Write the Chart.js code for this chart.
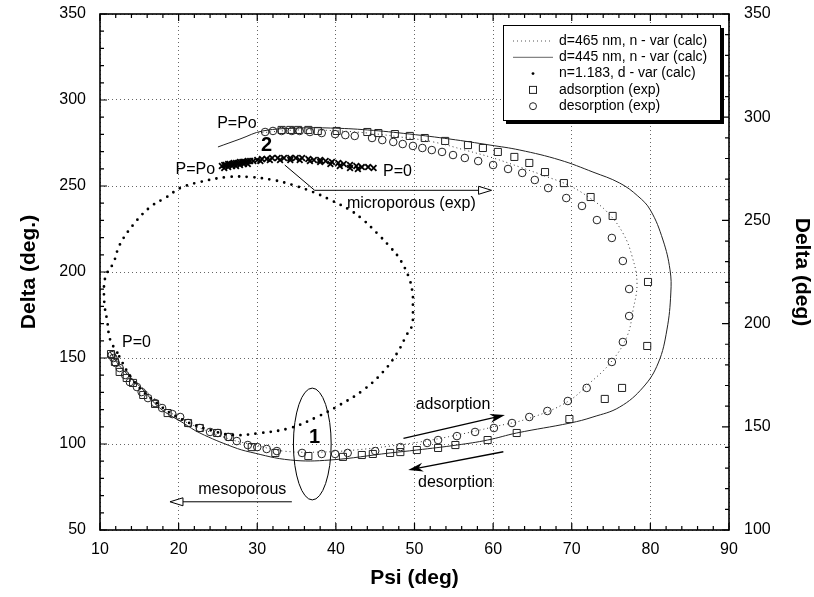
<!DOCTYPE html>
<html><head><meta charset="utf-8">
<script src="https://cdn.jsdelivr.net/npm/chart.js@4.4.1/dist/chart.umd.min.js"></script>
<style>html,body{margin:0;padding:0;background:#fff}canvas{display:block}</style>
</head><body>
<canvas id="c" width="814" height="597"></canvas>
<script>
// ---------- tick labels ----------
const xTicks = [10,20,30,40,50,60,70,80,90];
const yTicks = [50,100,150,200,250,300,350];
const y2Ticks = [100,150,200,250,300,350];

// ---------- series (Psi, Delta) ----------
const calc465Psi = [30.1,35.4,40.5,44.0,48.2,52.4,56.4,60.0,63.4,66.6,69.8,72.3,74.5,76.5,77.7,78.3,77.8,77.0,74.9,72.3,69.4,64.7,60.0,55.4,50.7,46.9,42.4,38.0,33.3,29.7,26.9,22.7,19.8,16.4,13.8,12.3,11.3];
const calc465Delta = [280.8,282.6,282.0,280.8,278.5,275.6,270.9,266.3,261.0,255.8,250.0,243.0,234.9,222.7,208.7,193.6,177.9,162.2,147.1,135.5,124.4,115.1,109.9,105.2,101.2,98.8,96.5,95.3,95.9,99.4,102.3,109.3,115.7,128.5,140.1,147.7,154.7];

const calc445Psi = [25.0,27.8,30.7,35.4,39.3,44.0,49.4,54.5,59.6,63.4,68.5,72.7,76.1,78.4,80.0,81.6,82.5,82.6,82.1,81.0,79.1,76.1,72.7,69.8,63.0,59.3,55.4,50.3,46.9,39.3,34.2,29.1,26.9,22.7,20.6,17.6,15.5,13.2,12.2,11.3];
const calc445Delta = [272.7,277.3,282.0,283.7,283.7,282.6,280.2,277.3,273.8,270.9,265.1,258.1,251.7,244.2,236.0,218.6,201.2,187.8,166.3,147.1,133.1,121.5,115.7,112.2,106.4,102.3,99.4,96.5,94.8,90.7,90.7,95.3,98.3,106.4,112.2,120.9,131.4,141.9,147.1,153.5];

const n1183Psi = [12.2,11.3,10.9,10.6,10.5,10.6,10.9,11.7,12.5,14.2,16.4,18.5,20.2,22.7,26.2,29.1,32.0,34.5,37.1,39.3,41.8,43.5,45.2,46.9,48.2,49.4,49.8,49.8,49.7,49.0,47.8,46.0,43.5,40.5,37.6,34.2,30.4,26.9,24.0,20.6,17.2,14.2,12.2];
const n1183Delta = [153.1,160.5,172.1,179.7,189.5,195.3,199.4,205.2,215.7,227.3,237.8,243.6,248.8,252.3,255.2,255.2,253.5,250.6,246.5,241.9,236.0,230.2,222.7,214.5,207.0,195.3,185.5,180.8,169.2,163.4,152.9,141.9,131.4,122.7,115.7,109.3,106.4,105.2,108.1,113.9,123.8,137.2,152.9];

const adsPsi = [11.4,11.9,12.5,13.4,14.2,15.5,17.0,18.6,21.2,22.7,24.9,26.5,29.3,32.3,36.5,40.9,43.3,44.7,46.9,48.2,50.3,53.0,55.2,59.3,63.0,69.7,74.2,76.4,79.6,79.7,75.2,72.4,69.0,66.6,64.6,62.7,60.6,58.7,56.8,53.9,51.3,49.4,47.5,45.4,44.0,40.1,37.7,36.5,35.2,34.2,33.1];
const adsDelta = [152.3,147.7,141.9,138.4,135.5,128.5,123.3,118.0,112.2,109.3,106.4,104.1,98.2,94.8,93.0,92.5,93.6,94.2,94.8,95.3,96.5,97.7,99.4,102.3,106.4,114.5,126.2,132.6,157.0,194.2,232.6,243.6,251.7,258.1,263.4,266.9,269.8,272.1,273.8,276.2,277.9,279.1,280.2,280.8,281.4,282.0,282.0,282.6,282.6,282.6,282.6];

const desPsi = [31.0,32.0,33.1,34.4,35.4,36.7,38.2,39.9,41.2,42.4,44.6,45.9,47.3,48.5,49.8,51.0,52.2,53.5,54.9,56.4,58.1,60.0,61.9,63.7,65.3,67.0,69.3,71.3,73.2,75.1,76.5,77.3,77.3,76.5,75.1,71.9,69.5,66.9,64.6,62.4,60.1,57.7,55.4,53.0,51.6,48.2,45.0,41.5,39.9,38.2,35.7,32.5,31.2,30.0,28.8,27.4,26.3,25.0,24.0,22.7,21.2,20.2,19.2,17.9,17.0,16.1,15.3,14.7,13.8,13.2,12.5,12.0,11.7,11.5];
const desDelta = [281.4,282.0,282.0,282.0,282.0,281.4,280.8,280.2,279.6,279.1,277.9,276.7,275.6,274.4,273.3,272.1,270.9,269.8,268.0,266.3,264.5,262.2,259.9,257.6,253.5,248.8,243.0,238.4,230.2,219.8,206.4,190.1,174.4,159.3,147.7,132.6,125.0,119.2,115.7,112.2,109.3,107.0,104.6,102.3,100.6,98.2,95.9,94.8,94.2,94.2,94.8,95.9,97.1,98.2,99.4,101.7,104.1,106.4,107.0,109.3,112.2,115.7,117.4,120.9,123.8,126.7,130.2,133.1,136.0,140.1,144.2,147.1,150.0,151.7];

const microPsi = [25.5,25.8,26.0,26.3,26.5,26.8,27.0,27.3,27.6,27.8,28.1,28.3,28.6,28.8,29.1,29.5,
  25.8,26.3,26.8,27.3,27.8,28.3,28.8,
  30.0,30.6,31.2,31.9,32.6,33.4,34.2,34.9,35.7,36.5,37.2,38.0,38.7,39.5,40.3,41.0,41.8,42.6,43.3,44.1,44.8,
  30.4,31.6,32.9,34.2,35.4,36.7,38.0,39.3,40.5,41.8,42.8];
const microDelta = [261.6,262.2,262.2,262.8,262.8,262.8,263.4,263.4,263.4,264.0,264.0,264.0,264.0,264.5,264.5,264.5,
  260.5,261.0,261.6,261.6,262.2,262.8,262.8,
  265.1,265.7,265.7,266.3,266.3,266.3,266.3,266.3,266.3,265.7,265.1,265.1,264.5,264.0,263.4,262.8,262.2,261.6,261.0,261.0,260.5,
  264.5,265.1,265.1,265.1,265.1,264.5,264.0,262.8,261.6,260.5,259.9];

const legendLabels = ['d=465 nm, n - var (calc)','d=445 nm, n - var (calc)','n=1.183, d - var (calc)','adsorption (exp)','desorption (exp)'];

// ---------- annotations (data coordinates) ----------
const notes = [
  {t:'P=Po', psi:24.9, d:286.0, align:'left'},
  {t:'P=Po', psi:19.6, d:259.3, align:'left'},
  {t:'P=0', psi:46.0, d:258.1, align:'left'},
  {t:'microporous (exp)', psi:41.4, d:239.5, align:'left'},
  {t:'P=0', psi:12.8, d:158.7, align:'left'},
  {t:'mesoporous', psi:28.1, d:73.3, align:'center'},
  {t:'adsorption', psi:54.9, d:122.7, align:'center'},
  {t:'desorption', psi:55.2, d:77.3, align:'center'},
  {t:'2', psi:31.2, d:273.8, align:'center', bold:true},
  {t:'1', psi:37.3, d:103.5, align:'center', bold:true}
];
const arrows = [
  {pts:[[33.5,262.2],[37.3,247.5],[59.8,247.5]], open:true},
  {pts:[[34.4,66.4],[18.9,66.4]], open:true},
  {pts:[[48.6,103.3],[61.5,116.9]], open:false},
  {pts:[[61.3,95.5],[49.2,84.9]], open:false}
];
const ellipseNote = {psi:37.0, d:100.0, rPsi:2.4, rD:32.5};

const zip = (a,b) => a.map((v,i) => ({x:v, y:b[i]}));
const FONT = "'Liberation Sans', Arial, Helvetica, sans-serif";
Chart.defaults.font.family = FONT;
Chart.defaults.color = '#000';

const decor = {
  id:'decor',
  afterDraw(chart){
    const {ctx, chartArea:ca, scales} = chart;
    const X = scales.x, Y = scales.y, Y2 = scales.y2;
    const px = v => X.getPixelForValue(v), py = v => Y.getPixelForValue(v);
    ctx.save();
    // inward ticks
    ctx.strokeStyle = '#000'; ctx.lineWidth = 1.2;
    ctx.beginPath();
    for (let i=0;i<xTicks.length;i++){
      const a = xTicks[i];
      const p = px(a);
      ctx.moveTo(p, ca.bottom); ctx.lineTo(p, ca.bottom-7);
      ctx.moveTo(p, ca.top); ctx.lineTo(p, ca.top+7);
      if (i < xTicks.length-1){
        const step = (xTicks[i+1]-a)/5;
        for (let k=1;k<5;k++){ const q = px(a+k*step);
          ctx.moveTo(q, ca.bottom); ctx.lineTo(q, ca.bottom-4);
          ctx.moveTo(q, ca.top); ctx.lineTo(q, ca.top+4); }
      }
    }
    for (let i=0;i<yTicks.length;i++){
      const a = yTicks[i], p = py(a);
      ctx.moveTo(ca.left, p); ctx.lineTo(ca.left+7, p);
      if (i < yTicks.length-1){ const step=(yTicks[i+1]-a)/5;
        for (let k=1;k<5;k++){ const q = py(a+k*step); ctx.moveTo(ca.left,q); ctx.lineTo(ca.left+4,q);} }
    }
    for (let i=0;i<y2Ticks.length;i++){
      const a = y2Ticks[i], p = Y2.getPixelForValue(a);
      ctx.moveTo(ca.right, p); ctx.lineTo(ca.right-7, p);
      if (i < y2Ticks.length-1){ const step=(y2Ticks[i+1]-a)/5;
        for (let k=1;k<5;k++){ const q = Y2.getPixelForValue(a+k*step); ctx.moveTo(ca.right,q); ctx.lineTo(ca.right-4,q);} }
    }
    ctx.stroke();
    // frame
    ctx.lineWidth = 1.6;
    ctx.strokeRect(ca.left, ca.top, ca.right-ca.left, ca.bottom-ca.top);

    // ellipse
    ctx.lineWidth = 1;
    ctx.beginPath();
    const ex = px(ellipseNote.psi), ey = py(ellipseNote.d);
    ctx.ellipse(ex, ey, Math.abs(px(ellipseNote.psi+ellipseNote.rPsi)-ex), Math.abs(py(ellipseNote.d+ellipseNote.rD)-ey), 0, 0, Math.PI*2);
    ctx.stroke();

    // arrows
    arrows.forEach(a => {
      const P = a.pts.map(q => [px(q[0]), py(q[1])]);
      const n = P.length;
      const [x2,y2] = P[n-1], [x1,y1] = P[n-2];
      const ang = Math.atan2(y2-y1, x2-x1);
      const L = a.open ? 13 : 15, W = a.open ? 4 : 4.5;
      const bx = x2 - L*Math.cos(ang), by = y2 - L*Math.sin(ang);
      ctx.beginPath();
      ctx.moveTo(P[0][0], P[0][1]);
      for (let i=1;i<n-1;i++) ctx.lineTo(P[i][0], P[i][1]);
      ctx.lineTo(a.open ? bx : x2 - 6*Math.cos(ang), a.open ? by : y2 - 6*Math.sin(ang));
      ctx.lineWidth = a.open ? 1 : 1.3;
      ctx.stroke();
      ctx.beginPath();
      ctx.moveTo(x2,y2);
      ctx.lineTo(bx - W*Math.sin(ang), by + W*Math.cos(ang));
      if (!a.open) ctx.lineTo(x2 - 0.7*L*Math.cos(ang), y2 - 0.7*L*Math.sin(ang));
      ctx.lineTo(bx + W*Math.sin(ang), by - W*Math.cos(ang));
      ctx.closePath();
      ctx.lineWidth = 1;
      if (a.open){ ctx.fillStyle='#fff'; ctx.fill(); ctx.stroke(); }
      else { ctx.fillStyle='#000'; ctx.fill(); }
    });

    // text notes
    ctx.fillStyle = '#000';
    ctx.textBaseline = 'middle';
    notes.forEach(n => {
      ctx.font = n.bold ? "bold 20px " + FONT : "16px " + FONT;
      ctx.textAlign = n.align;
      ctx.fillText(n.t, px(n.psi), py(n.d));
    });

    // legend box
    const bw = 217, bh = 95;
    const bl = ca.right - 226, bt = ca.top + 11;
    ctx.fillStyle = '#000'; ctx.fillRect(bl+3, bt+3, bw+1, bh+1);
    ctx.fillStyle = '#fff'; ctx.fillRect(bl, bt, bw, bh);
    ctx.lineWidth = 1; ctx.strokeStyle = '#000'; ctx.strokeRect(bl+0.5, bt+0.5, bw, bh);
    ctx.font = "14px " + FONT; ctx.textAlign = 'left'; ctx.textBaseline = 'middle';
    legendLabels.forEach((lab, i) => {
      const yy = bt + 16 + i*16.3;
      const ds = chart.data.datasets[i];
      ctx.save();
      ctx.strokeStyle = ds.borderColor; ctx.lineWidth = 1;
      if (i < 2){
        ctx.setLineDash(i===0 ? [1,3] : []);
        ctx.strokeStyle = i===0 ? '#555' : '#666';
        ctx.beginPath(); ctx.moveTo(bl+10, yy); ctx.lineTo(bl+50, yy); ctx.stroke();
      } else if (i === 2){
        ctx.fillStyle = '#000'; ctx.beginPath(); ctx.arc(bl+30, yy, 1.4, 0, Math.PI*2); ctx.fill();
      } else if (i === 3){
        ctx.strokeRect(bl+26.5, yy-3.5, 7, 7);
      } else {
        ctx.beginPath(); ctx.arc(bl+30, yy, 3.5, 0, Math.PI*2); ctx.stroke();
      }
      ctx.restore();
      ctx.fillStyle = '#000';
      ctx.fillText(lab, bl+56, yy);
    });
    ctx.restore();
  }
};

const noOverflow = s => { s.paddingTop = 0; s.paddingBottom = 0; s.paddingLeft = 0; s.paddingRight = 0; };
const gridCommon = {color:'#666', lineWidth:1, drawTicks:false};
new Chart(document.getElementById('c'), {
  type:'scatter',
  data:{datasets:[
    {label:legendLabels[0], data:zip(calc465Psi, calc465Delta), showLine:true, borderColor:'#333', borderWidth:1, borderDash:[1,3], pointRadius:0, tension:0.4, fill:false},
    {label:legendLabels[1], data:zip(calc445Psi, calc445Delta), showLine:true, borderColor:'#222', borderWidth:1, pointRadius:0, tension:0.4, fill:false},
    {label:legendLabels[2], data:zip(n1183Psi, n1183Delta), showLine:true, borderColor:'#000', borderWidth:2.8, borderDash:[0,7.6], borderCapStyle:'round', pointRadius:0, tension:0.4, fill:false},
    {label:legendLabels[3], data:zip(adsPsi, adsDelta), pointStyle:'rect', pointRadius:5, borderColor:'#222', borderWidth:1, backgroundColor:'rgba(0,0,0,0)'},
    {label:legendLabels[4], data:zip(desPsi, desDelta), pointStyle:'circle', pointRadius:3.8, borderColor:'#222', borderWidth:1, backgroundColor:'rgba(0,0,0,0)'},
    {label:'microporous (exp)', data:zip(microPsi, microDelta), pointStyle:'crossRot', pointRadius:4, borderColor:'#000', borderWidth:1.8}
  ]},
  options:{
    responsive:false, animation:false, devicePixelRatio:1, events:[],
    layout:{padding:{top:14, left:0, right:0, bottom:0}},
    plugins:{legend:{display:false}, tooltip:{enabled:false}},
    scales:{
      x:{type:'linear', position:'bottom', min:10, max:90,
        afterBuildTicks:s => { s.ticks = xTicks.map(v => ({value:v})); },
        afterFit:s => { s.height = 67; noOverflow(s); },
        ticks:{font:{size:16}, color:'#000', padding:10, maxRotation:0},
        grid:gridCommon, border:{display:false, dash:[1,3]},
        title:{display:true, text:'Psi (deg)', font:{size:21, weight:'bold'}, color:'#000', padding:{top:0, bottom:6}}},
      y:{type:'linear', position:'left', min:50, max:350,
        afterBuildTicks:s => { s.ticks = yTicks.map(v => ({value:v})); },
        afterFit:s => { s.width = 100; noOverflow(s); },
        ticks:{font:{size:16}, color:'#000', padding:14},
        grid:gridCommon, border:{display:false, dash:[1,3]},
        title:{display:true, text:'Delta (deg.)', font:{size:21, weight:'bold'}, color:'#000', padding:{top:17, bottom:0}}},
      y2:{type:'linear', position:'right', min:100, max:350,
        afterBuildTicks:s => { s.ticks = y2Ticks.map(v => ({value:v})); },
        afterFit:s => { s.width = 85; noOverflow(s); },
        ticks:{font:{size:16}, color:'#000', padding:15},
        grid:{drawOnChartArea:false, drawTicks:false}, border:{display:false},
        title:{display:true, text:'Delta (deg)', font:{size:21, weight:'bold'}, color:'#000', padding:{top:0, bottom:0}}}
    }
  },
  plugins:[decor]
});
</script>
</body></html>
